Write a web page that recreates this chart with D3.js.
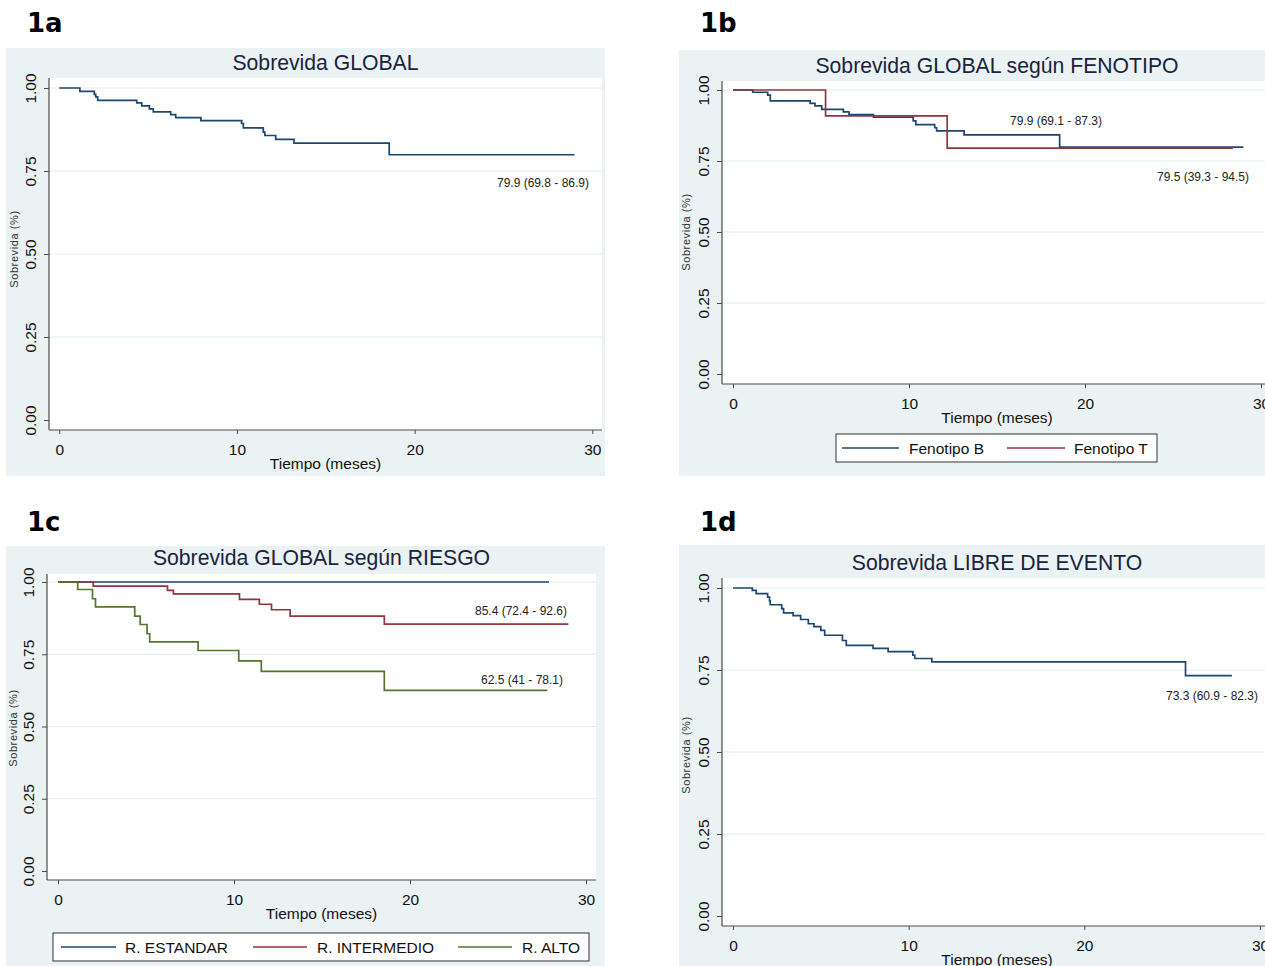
<!DOCTYPE html>
<html><head><meta charset="utf-8">
<script src="https://cdn.jsdelivr.net/npm/d3@7"></script>
<style>
body{margin:0;background:#fff;}
svg{display:block;font-family:"Liberation Sans",Arial,sans-serif;}
</style>
</head><body>
<svg id="c" width="1265" height="966"></svg>
<script>
// ---------------- DATA ----------------
const xTicks = [0, 10, 20, 30];
const yTicks = [0, 0.25, 0.5, 0.75, 1];
const yTickLabels = ["0.00", "0.25", "0.50", "0.75", "1.00"];
const panelLetters = ["1a", "1b", "1c", "1d"];
const panelTitles = ["Sobrevida GLOBAL", "Sobrevida GLOBAL según FENOTIPO", "Sobrevida GLOBAL según RIESGO", "Sobrevida LIBRE DE EVENTO"];
const xTitle = "Tiempo (meses)";
const yTitle = "Sobrevida (%)";

// 1a: global survival
const globalTime = [0, 1.16, 1.97, 2.05, 2.16, 4.36, 4.64, 5.07, 5.29, 6.27, 6.55, 7.97, 10.26, 10.36, 11.48, 11.57, 12.18, 13.21, 18.57, 29.0];
const globalSurv = [1, 0.990, 0.981, 0.973, 0.963, 0.955, 0.946, 0.937, 0.928, 0.920, 0.911, 0.902, 0.893, 0.880, 0.867, 0.857, 0.845, 0.834, 0.799, 0.799];

// 1b: by phenotype
const fenoNames = ["Fenotipo B", "Fenotipo T"];
const fenoBTime = [0, 1.12, 1.97, 2.12, 4.38, 4.66, 5.04, 6.27, 6.59, 7.98, 10.24, 10.39, 11.46, 11.57, 13.13, 18.56, 29.0];
const fenoBSurv = [1, 0.992, 0.982, 0.962, 0.953, 0.944, 0.932, 0.923, 0.913, 0.904, 0.891, 0.878, 0.867, 0.856, 0.842, 0.799, 0.799];
const fenoTTime = [0, 5.26, 12.17, 28.4];
const fenoTSurv = [1, 0.909, 0.795, 0.795];

// 1c: by risk
const riesgoNames = ["R. ESTANDAR", "R. INTERMEDIO", "R. ALTO"];
const estTime = [0, 27.9];
const estSurv = [1, 1];
const intTime = [0, 2.0, 6.22, 6.56, 10.31, 11.44, 12.13, 13.19, 18.54, 29.0];
const intSurv = [1, 0.986, 0.971, 0.959, 0.940, 0.923, 0.904, 0.882, 0.854, 0.854];
const altoTime = [0, 1.12, 1.96, 2.13, 4.36, 4.67, 5.06, 5.21, 7.96, 10.27, 11.55, 18.54, 27.8];
const altoSurv = [1, 0.974, 0.942, 0.914, 0.882, 0.853, 0.821, 0.793, 0.763, 0.727, 0.691, 0.625, 0.625];

// 1d: event-free survival
const efsTime = [0, 1.10, 1.32, 1.97, 2.08, 2.12, 2.77, 2.88, 3.42, 3.85, 4.29, 4.61, 5.0, 5.22, 6.23, 6.45, 7.97, 8.83, 10.24, 10.35, 11.32, 25.76, 28.4];
const efsSurv = [1, 0.993, 0.983, 0.972, 0.961, 0.949, 0.937, 0.924, 0.916, 0.904, 0.891, 0.882, 0.871, 0.856, 0.840, 0.825, 0.816, 0.806, 0.795, 0.785, 0.775, 0.733, 0.733];

// Annotation texts
const annot1a = ["79.9 (69.8 - 86.9)"];
const annot1b = ["79.9 (69.1 - 87.3)", "79.5 (39.3 - 94.5)"];
const annot1c = ["85.4 (72.4 - 92.6)", "62.5 (41 - 78.1)"];
const annot1d = ["73.3 (60.9 - 82.3)"];

// ---------------- STYLE / LAYOUT ----------------
const NAVY = "#1a476f", MAROON = "#90353b", GREEN = "#55752f";
const BG = "#eaf2f3", GRID = "#e3ecef", AXIS = "#4a4a4a";

const zip = (t, s) => t.map((v, i) => [v, s[i]]);

const layout = [
  { letter: [27, 32], bg: [6, 48, 605, 476], plot: [49, 78, 602, 430], xr: [59.3, 592.3], yr: [420, 88], titleY: 70, yTitleX: 14, yTitleY: 249,
    series: [{ d: zip(globalTime, globalSurv), c: NAVY }],
    annots: [{ t: annot1a[0], x: 543, y: 183 }] },
  { letter: [700, 32], bg: [679, 50, 1265, 476], plot: [722, 81, 1272, 384], xr: [733, 1261], yr: [374, 90], titleY: 73, yTitleX: 686, yTitleY: 232,
    series: [{ d: zip(fenoBTime, fenoBSurv), c: NAVY }, { d: zip(fenoTTime, fenoTSurv), c: MAROON }],
    annots: [{ t: annot1b[0], x: 1056, y: 121 }, { t: annot1b[1], x: 1203, y: 177 }],
    legend: { box: [836, 434, 1157, 462], items: [{ n: fenoNames[0], c: NAVY, l: 842, r: 899, tx: 909 }, { n: fenoNames[1], c: MAROON, l: 1007, r: 1065, tx: 1074 }] } },
  { letter: [27, 531], bg: [6, 546, 605, 966], plot: [47, 574, 596, 880], xr: [58, 586], yr: [871, 582], titleY: 565, yTitleX: 13, yTitleY: 728,
    series: [{ d: zip(estTime, estSurv), c: NAVY }, { d: zip(intTime, intSurv), c: MAROON }, { d: zip(altoTime, altoSurv), c: GREEN }],
    annots: [{ t: annot1c[0], x: 521, y: 611 }, { t: annot1c[1], x: 522, y: 680 }],
    legend: { box: [53, 933, 589, 961], items: [{ n: riesgoNames[0], c: NAVY, l: 61, r: 116, tx: 125 }, { n: riesgoNames[1], c: MAROON, l: 253, r: 307, tx: 317 }, { n: riesgoNames[2], c: GREEN, l: 458, r: 512, tx: 522 }] } },
  { letter: [700, 531], bg: [679, 545, 1265, 966], plot: [722, 578, 1272, 926], xr: [733, 1260], yr: [916, 588], titleY: 570, yTitleX: 686, yTitleY: 755,
    series: [{ d: zip(efsTime, efsSurv), c: NAVY }],
    annots: [{ t: annot1d[0], x: 1212, y: 696 }] }
];

const svg = d3.select("#c");

layout.forEach((L, idx) => {
  const g = svg.append("g");
  svg.append("text").attr("x", L.letter[0]).attr("y", L.letter[1])
    .attr("font-family", "'DejaVu Sans',Verdana,sans-serif").attr("font-weight", "bold")
    .attr("font-size", 26).attr("fill", "#000").text(panelLetters[idx]);
  g.append("rect").attr("x", L.bg[0]).attr("y", L.bg[1]).attr("width", L.bg[2] - L.bg[0]).attr("height", L.bg[3] - L.bg[1]).attr("fill", BG);
  g.append("rect").attr("x", L.plot[0]).attr("y", L.plot[1]).attr("width", L.plot[2] - L.plot[0]).attr("height", L.plot[3] - L.plot[1]).attr("fill", "#fff");

  const x = d3.scaleLinear().domain([0, 30]).range(L.xr);
  const y = d3.scaleLinear().domain([0, 1]).range(L.yr);
  const cx = (L.plot[0] + L.plot[2]) / 2;

  g.append("text").attr("x", cx).attr("y", L.titleY).attr("text-anchor", "middle")
    .attr("font-size", 21.2).attr("fill", "#1a2340").text(panelTitles[idx]);

  g.append("g").selectAll("line").data(yTicks.filter(v => v > 0)).join("line")
    .attr("x1", L.plot[0]).attr("x2", L.plot[2]).attr("y1", d => y(d)).attr("y2", d => y(d))
    .attr("stroke", GRID).attr("stroke-width", 1);

  const line = d3.line().x(d => x(d[0])).y(d => y(d[1])).curve(d3.curveStepAfter);
  L.series.forEach(s => {
    g.append("path").datum(s.d).attr("d", line).attr("fill", "none")
      .attr("stroke", s.c).attr("stroke-width", 1.7).attr("stroke-linejoin", "miter");
  });

  L.annots.forEach(a => {
    g.append("text").attr("x", a.x).attr("y", a.y).attr("dy", "0.35em").attr("text-anchor", "middle")
      .attr("font-size", 12).attr("fill", "#222").text(a.t);
  });

  const ya = g.append("g").attr("transform", `translate(${L.plot[0]},0)`)
    .call(d3.axisLeft(y).tickValues(yTicks).tickFormat((d, i) => yTickLabels[i]).tickSize(5).tickSizeOuter(0));
  ya.select(".domain").remove();
  ya.selectAll(".tick line").attr("stroke", AXIS);
  ya.selectAll(".tick text").attr("transform", "rotate(-90)").attr("x", 0).attr("y", -19).attr("dy", "0.36em")
    .attr("text-anchor", "middle").attr("font-size", 15.5).attr("font-family", "'Liberation Sans',Arial,sans-serif").attr("fill", "#111");
  g.append("line").attr("x1", L.plot[0]).attr("x2", L.plot[0]).attr("y1", L.plot[1]).attr("y2", L.plot[3]).attr("stroke", AXIS).attr("stroke-width", 1.2);

  const xa = g.append("g").attr("transform", `translate(0,${L.plot[3]})`)
    .call(d3.axisBottom(x).tickValues(xTicks).tickFormat(d3.format("d")).tickSize(4).tickSizeOuter(0));
  xa.select(".domain").remove();
  xa.selectAll(".tick line").attr("stroke", AXIS);
  xa.selectAll(".tick text").attr("y", 19).attr("dy", "0.36em").attr("font-size", 15.5)
    .attr("font-family", "'Liberation Sans',Arial,sans-serif").attr("fill", "#111");
  g.append("line").attr("x1", L.plot[0]).attr("x2", L.plot[2]).attr("y1", L.plot[3]).attr("y2", L.plot[3]).attr("stroke", AXIS).attr("stroke-width", 1.2);

  g.append("text").attr("x", cx).attr("y", L.plot[3] + 33).attr("dy", "0.36em").attr("text-anchor", "middle")
    .attr("font-size", 15.5).attr("fill", "#111").text(xTitle);
  g.append("text").attr("transform", `translate(${L.yTitleX},${L.yTitleY}) rotate(-90)`).attr("dy", "0.35em")
    .attr("text-anchor", "middle").attr("font-size", 11).attr("letter-spacing", "0.6px").attr("fill", "#333").text(yTitle);

  if (L.legend) {
    const lg = L.legend, b = lg.box, my = (b[1] + b[3]) / 2;
    g.append("rect").attr("x", b[0]).attr("y", b[1]).attr("width", b[2] - b[0]).attr("height", b[3] - b[1])
      .attr("fill", "#fff").attr("stroke", "#333").attr("stroke-width", 1);
    lg.items.forEach(it => {
      g.append("line").attr("x1", it.l).attr("x2", it.r).attr("y1", my).attr("y2", my).attr("stroke", it.c).attr("stroke-width", 1.7);
      g.append("text").attr("x", it.tx).attr("y", my).attr("dy", "0.36em").attr("font-size", 15.5).attr("fill", "#111").text(it.n);
    });
  }
});
</script>
</body></html>
